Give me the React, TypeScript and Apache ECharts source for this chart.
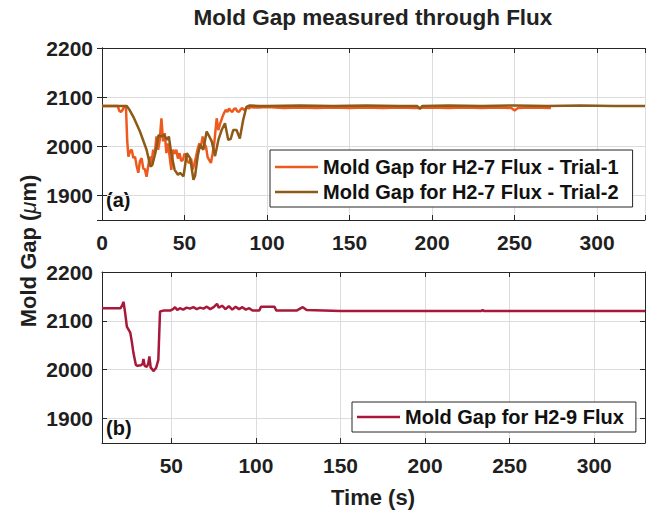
import React, { useEffect, useRef } from "react";
import * as echarts from "echarts";

// ---- Data ----
const trial1Time = [0, 9.5, 10.5, 11.5, 12.5, 13.5, 14.5, 15.3, 16, 17, 18, 19, 20, 21, 22, 23, 24, 25, 26, 27, 28, 29, 30, 31, 32, 33, 34, 35, 36, 37, 38, 39, 40, 41, 42, 43, 44, 45, 46, 47, 48, 49, 50, 51, 52, 53, 54, 55, 56, 57, 58, 59, 60, 61, 62, 63, 64, 65, 66, 67, 68, 69, 69.5, 70.5, 71.5, 73, 74, 75, 76, 77, 78, 79, 80, 81, 82, 83, 84, 85, 86, 87, 88, 89, 90, 92, 95, 100, 110, 120, 130, 140, 150, 160, 170, 180, 190, 200, 210, 220, 230, 240, 248, 250, 252, 260, 272];
const trial1Gap = [2082, 2082, 2072, 2070, 2074, 2082, 2080, 2010, 1979, 1990, 1993, 1976, 1979, 1960, 1946, 1970, 1976, 1955, 1953, 1938, 1960, 1979, 1965, 1993, 1985, 2020, 1993, 2013, 2057, 2010, 2027, 1986, 2006, 1979, 1952, 1993, 1985, 1993, 1975, 1986, 1970, 1972, 1985, 1980, 1968, 1966, 1975, 1953, 1965, 1979, 1995, 2006, 2000, 2020, 2005, 1999, 1978, 1972, 1966, 1985, 2006, 2040, 2057, 2033, 2045, 2060, 2068, 2074, 2070, 2077, 2072, 2070, 2076, 2077, 2071, 2070, 2075, 2078, 2074, 2076, 2079, 2077, 2080, 2079, 2079, 2080, 2078, 2079, 2078, 2079, 2078, 2079, 2078, 2079, 2078, 2079, 2078, 2079, 2078, 2079, 2078, 2073, 2078, 2079, 2078];

const trial2Time = [0, 15, 16.5, 19, 23, 27, 29.3, 30.5, 32.3, 34.3, 36, 37.5, 39.5, 40.5, 42, 44, 46, 47.3, 49.4, 51.4, 53.4, 55.4, 56.4, 58, 59.4, 61.4, 63.4, 65, 66.5, 68.5, 70.5, 72.5, 74.5, 76.5, 78, 79.5, 81.5, 83.5, 85.5, 87.5, 89.5, 95, 100, 120, 140, 160, 180, 191, 192.6, 194, 210, 230, 250, 270, 290, 310, 329];
const trial2Gap = [2082, 2082, 2075, 2060, 2030, 1993, 1959, 1962, 1986, 2023, 2020, 2023, 2013, 2020, 1985, 1952, 1942, 1946, 1939, 1986, 1976, 1932, 1940, 1980, 2003, 1993, 2030, 2020, 2010, 1980, 2013, 2033, 2047, 2013, 2015, 2033, 2033, 2016, 2053, 2080, 2083, 2082, 2082, 2083, 2082, 2083, 2082, 2082, 2076, 2082, 2083, 2082, 2083, 2082, 2083, 2082, 2082];

const h29Time = [9, 20, 21, 21.7, 22.7, 23.7, 25.7, 26.6, 27.6, 29, 30, 32, 33, 33.5, 34.2, 35.5, 36.3, 37, 37.8, 38.5, 39.4, 41, 42.3, 43.3, 45.3, 49.3, 51, 52.2, 53.5, 55, 57, 59, 61, 63, 65, 67, 69, 71, 73, 75, 77, 78, 80, 82, 84, 86, 88, 90, 92, 94, 96, 98, 102, 103, 111, 112, 124, 127.7, 130, 140, 150, 233, 234, 235, 330];
const h29Gap = [2126, 2126, 2132, 2139, 2116, 2088, 2076, 2058, 2034, 2010, 2008, 2009, 2012, 2022, 2008, 2006, 2012, 2027, 2004, 2002, 1997, 2004, 2020, 2119, 2121, 2121, 2124, 2128, 2122, 2126, 2123, 2127, 2125, 2128, 2124, 2127, 2125, 2129, 2124, 2128, 2135, 2127, 2131, 2124, 2130, 2123, 2129, 2124, 2128, 2123, 2126, 2121, 2121, 2129, 2129, 2121, 2121, 2128, 2122, 2121, 2120, 2120, 2122, 2120, 2120];

const yTicks = [1900, 2000, 2100, 2200];
const xTicks = [0, 50, 100, 150, 200, 250, 300];

const names = [
  "Mold Gap for H2-7 Flux - Trial-1",
  "Mold Gap for H2-7 Flux - Trial-2",
  "Mold Gap for H2-9 Flux",
];

const FONT = '"Liberation Sans", Arial, Helvetica, sans-serif';
const INK = "#1f1f1f";
const GRID = "#dcdcdc";

const pairs = (t: number[], v: number[]) => t.map((x, i) => [x, v[i]]);

export default function App() {
  const ref = useRef<HTMLDivElement>(null);

  useEffect(() => {
    if (!ref.current) return;
    const chart = echarts.init(ref.current, undefined, { renderer: "svg" });

    const label = {
      fontFamily: FONT,
      fontWeight: "bold" as const,
      fontSize: 21,
      color: INK,
    };

    const mkX = (grid: number, min: number, max: number, main: boolean, extra: any) => ({
      type: "value",
      gridIndex: grid,
      min,
      max,
      position: main ? "bottom" : "top",
      ...extra,
      axisLine: { show: true, lineStyle: { color: "#262626", width: 1 } },
      axisTick: { show: true, inside: true, length: 5, lineStyle: { color: "#262626" } },
      axisLabel: main
        ? {
            ...label,
            margin: 12,
            formatter: (v: number) => (xTicks.includes(v) ? String(v) : ""),
          }
        : { show: false },
      splitLine: { show: main, lineStyle: { color: GRID, width: 1 } },
    });

    const mkY = (grid: number, main: boolean) => ({
      type: "value",
      gridIndex: grid,
      min: 1850,
      max: 2200,
      splitNumber: 4,
      position: main ? "left" : "right",
      axisLine: { show: true, lineStyle: { color: "#262626", width: 1 } },
      axisTick: { show: true, inside: true, length: 5, lineStyle: { color: "#262626" } },
      axisLabel: main
        ? {
            ...label,
            margin: 9,
            showMinLabel: false,
            formatter: (v: number) => (yTicks.includes(v) ? String(v) : ""),
          }
        : { show: false },
      splitLine: { show: main, lineStyle: { color: GRID, width: 1 } },
    });

    const legendText = {
      fontFamily: FONT,
      fontWeight: "bold" as const,
      fontSize: 20,
      color: "#111",
      lineHeight: 20,
    };

    chart.setOption({
      animation: false,
      backgroundColor: "#ffffff",
      grid: [
        { left: 102, right: 7, top: 48, height: 172, containLabel: false },
        { left: 102, right: 7, top: 272, height: 171, containLabel: false },
      ],
      xAxis: [
        mkX(0, 0, 329, true, { interval: 50 }),
        mkX(0, 0, 329, false, { interval: 50 }),
        mkX(1, 9, 330, true, { splitNumber: 6 }),
        mkX(1, 9, 330, false, { splitNumber: 6 }),
      ],
      yAxis: [mkY(0, true), mkY(0, false), mkY(1, true), mkY(1, false)],
      legend: [
        {
          data: [names[0], names[1]],
          orient: "vertical",
          left: 270,
          top: 150,
          backgroundColor: "#ffffff",
          borderColor: "#262626",
          borderWidth: 1,
          borderRadius: 0,
          padding: [7, 14, 5, 5],
          itemGap: 5,
          icon: "rect",
          itemWidth: 43,
          itemHeight: 2.5,
          textStyle: legendText,
        },
        {
          data: [names[2]],
          orient: "vertical",
          left: 352,
          top: 402,
          backgroundColor: "#ffffff",
          borderColor: "#262626",
          borderWidth: 1,
          borderRadius: 0,
          padding: [5, 12, 5, 5],
          itemGap: 5,
          icon: "rect",
          itemWidth: 43,
          itemHeight: 2.5,
          textStyle: legendText,
        },
      ],
      series: [
        {
          name: names[0],
          type: "line",
          xAxisIndex: 0,
          yAxisIndex: 0,
          symbol: "none",
          data: pairs(trial1Time, trial1Gap),
          lineStyle: { color: "#ee5a1e", width: 2.5 },
          itemStyle: { color: "#ee5a1e" },
          z: 3,
        },
        {
          name: names[1],
          type: "line",
          xAxisIndex: 0,
          yAxisIndex: 0,
          symbol: "none",
          data: pairs(trial2Time, trial2Gap),
          lineStyle: { color: "#8e5a17", width: 2.5 },
          itemStyle: { color: "#8e5a17" },
          z: 4,
        },
        {
          name: names[2],
          type: "line",
          xAxisIndex: 2,
          yAxisIndex: 2,
          symbol: "none",
          data: pairs(h29Time, h29Gap),
          lineStyle: { color: "#a8183a", width: 2.5 },
          itemStyle: { color: "#a8183a" },
        },
      ],
      graphic: [
        {
          type: "text",
          x: 373,
          y: 17,
          style: {
            text: "Mold Gap measured through Flux",
            font: `bold 22.5px ${FONT}`,
            fill: "#222",
            textAlign: "center",
            align: "center",
            textVerticalAlign: "middle",
            verticalAlign: "middle",
          },
        },
        {
          type: "text",
          x: 28,
          y: 251,
          rotation: Math.PI / 2,
          style: {
            text: "{n|Mold Gap (}{g|μ}{n|m)}",
            font: `bold 22px ${FONT}`,
            fill: INK,
            textAlign: "center",
            align: "center",
            textVerticalAlign: "middle",
            verticalAlign: "middle",
            rich: {
              n: { fontFamily: FONT, fontWeight: "bold", fontSize: 22, fill: INK, color: INK },
              g: { fontFamily: FONT, fontWeight: "normal", fontStyle: "italic", fontSize: 22, fill: INK, color: INK },
            },
          },
        },
        {
          type: "text",
          x: 373,
          y: 497,
          style: {
            text: "Time (s)",
            font: `bold 22px ${FONT}`,
            fill: INK,
            textAlign: "center",
            align: "center",
            textVerticalAlign: "middle",
            verticalAlign: "middle",
          },
        },
        {
          type: "text",
          x: 106,
          y: 200,
          style: {
            text: "(a)",
            font: `bold 20px ${FONT}`,
            fill: "#111",
            textVerticalAlign: "middle",
            verticalAlign: "middle",
          },
        },
        {
          type: "text",
          x: 106,
          y: 428,
          style: {
            text: "(b)",
            font: `bold 20px ${FONT}`,
            fill: "#111",
            textVerticalAlign: "middle",
            verticalAlign: "middle",
          },
        },
      ],
    });

    return () => chart.dispose();
  }, []);

  return (
    <div
      ref={ref}
      style={{ position: "fixed", left: 0, top: 0, width: 652, height: 516, background: "#fff" }}
    />
  );
}
